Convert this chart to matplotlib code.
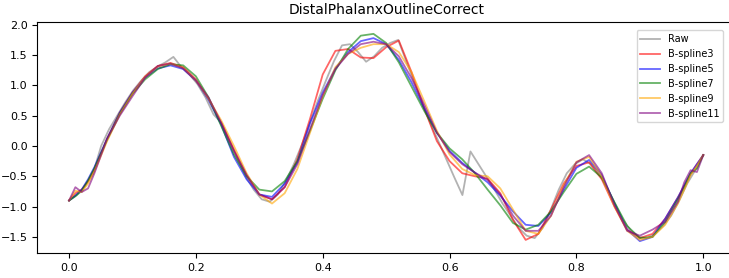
import numpy as np
import matplotlib
matplotlib.use("Agg")
import matplotlib.pyplot as plt

# raw series: 80 samples on [0, 1]
raw = [-0.90, -0.80, -0.66, -0.45, 0.00, 0.28, 0.50, 0.72, 0.92, 1.08,
       1.22, 1.31, 1.38, 1.47, 1.30, 1.18, 1.02, 0.80, 0.52, 0.38,
       0.08, -0.22, -0.50, -0.72, -0.88, -0.92, -0.80, -0.58, -0.30, 0.02,
       0.38, 0.75, 1.08, 1.40, 1.66, 1.68, 1.55, 1.39, 1.48, 1.62,
       1.70, 1.75, 1.40, 1.05, 0.70, 0.38, 0.08, -0.22, -0.52, -0.81,
       -0.09, -0.30, -0.51, -0.72, -0.95, -1.15, -1.35, -1.48, -1.52, -1.35,
       -1.05, -0.72, -0.45, -0.30, -0.22, -0.30, -0.45, -0.68, -0.95, -1.22,
       -1.40, -1.50, -1.52, -1.45, -1.32, -1.15, -0.90, -0.62, -0.40, -0.15]
x_raw = np.linspace(0, 1, len(raw))

# sample positions where the smoothed curves were read
x_fit = [0.00, 0.01, 0.02, 0.03, 0.04, 0.06, 0.08, 0.10, 0.12, 0.14,
         0.16, 0.18, 0.20, 0.22, 0.24, 0.26, 0.28, 0.30, 0.32, 0.34,
         0.36, 0.38, 0.40, 0.42, 0.44, 0.46, 0.48, 0.50, 0.52, 0.54,
         0.56, 0.58, 0.60, 0.62, 0.64, 0.66, 0.68, 0.70, 0.72, 0.74,
         0.76, 0.78, 0.80, 0.82, 0.84, 0.86, 0.88, 0.90, 0.92, 0.94,
         0.96, 0.97, 0.98, 0.99, 1.00]

bspline3 = [-0.90, -0.78, -0.72, -0.58, -0.38, 0.12, 0.55, 0.88, 1.15, 1.32,
            1.37, 1.30, 1.10, 0.78, 0.38, -0.06, -0.48, -0.80, -0.88, -0.68,
            -0.22, 0.45, 1.18, 1.57, 1.60, 1.46, 1.45, 1.63, 1.74, 1.22,
            0.62, 0.08, -0.25, -0.45, -0.50, -0.54, -0.78, -1.22, -1.55, -1.45,
            -1.05, -0.62, -0.33, -0.27, -0.55, -1.00, -1.38, -1.52, -1.45, -1.20,
            -0.85, -0.66, -0.46, -0.30, -0.15]

bspline5 = [-0.90, -0.82, -0.72, -0.55, -0.35, 0.12, 0.55, 0.88, 1.13, 1.28,
            1.33, 1.27, 1.08, 0.76, 0.35, -0.18, -0.55, -0.80, -0.84, -0.62,
            -0.27, 0.38, 0.88, 1.28, 1.55, 1.73, 1.78, 1.68, 1.42, 1.05,
            0.62, 0.22, -0.08, -0.28, -0.44, -0.60, -0.82, -1.08, -1.30, -1.32,
            -1.10, -0.72, -0.36, -0.23, -0.48, -0.95, -1.38, -1.57, -1.50, -1.20,
            -0.85, -0.65, -0.45, -0.30, -0.15]

bspline7 = [-0.90, -0.83, -0.74, -0.57, -0.37, 0.10, 0.53, 0.86, 1.10, 1.27,
            1.35, 1.33, 1.15, 0.80, 0.33, -0.14, -0.50, -0.72, -0.75, -0.58,
            -0.25, 0.25, 0.78, 1.25, 1.60, 1.82, 1.85, 1.70, 1.38, 0.98,
            0.58, 0.22, -0.04, -0.22, -0.45, -0.72, -0.98, -1.27, -1.38, -1.30,
            -1.08, -0.76, -0.46, -0.34, -0.52, -0.93, -1.32, -1.52, -1.50, -1.25,
            -0.88, -0.68, -0.45, -0.37, -0.15]

bspline9 = [-0.90, -0.74, -0.76, -0.62, -0.42, 0.08, 0.52, 0.86, 1.14, 1.31,
            1.36, 1.29, 1.08, 0.78, 0.42, 0.00, -0.45, -0.80, -0.95, -0.78,
            -0.38, 0.22, 0.82, 1.30, 1.52, 1.62, 1.68, 1.68, 1.55, 1.22,
            0.74, 0.25, -0.14, -0.38, -0.48, -0.50, -0.70, -1.05, -1.40, -1.45,
            -1.15, -0.65, -0.26, -0.18, -0.50, -1.00, -1.40, -1.55, -1.50, -1.30,
            -0.95, -0.72, -0.48, -0.33, -0.15]

bspline11 = [-0.90, -0.68, -0.76, -0.70, -0.45, 0.12, 0.50, 0.82, 1.13, 1.32,
             1.36, 1.28, 1.08, 0.80, 0.38, -0.08, -0.48, -0.80, -0.88, -0.68,
             -0.30, 0.28, 0.84, 1.27, 1.52, 1.68, 1.72, 1.68, 1.48, 1.12,
             0.68, 0.22, -0.10, -0.30, -0.44, -0.56, -0.80, -1.15, -1.40, -1.40,
             -1.15, -0.68, -0.27, -0.15, -0.45, -0.98, -1.40, -1.48, -1.38, -1.25,
             -0.92, -0.60, -0.40, -0.43, -0.15]

fig = plt.figure(figsize=(7.29, 2.78), dpi=100)
ax = fig.add_axes([0.0512, 0.0899, 0.957, 0.831])

ax.plot(x_raw, raw, color="gray", alpha=0.6, lw=1.3, label="Raw")
ax.plot(x_fit, bspline3, color="red", alpha=0.6, lw=1.3, label="B-spline3")
ax.plot(x_fit, bspline5, color="blue", alpha=0.6, lw=1.3, label="B-spline5")
ax.plot(x_fit, bspline7, color="green", alpha=0.6, lw=1.3, label="B-spline7")
ax.plot(x_fit, bspline9, color="orange", alpha=0.6, lw=1.3, label="B-spline9")
ax.plot(x_fit, bspline11, color="purple", alpha=0.6, lw=1.3, label="B-spline11")

ax.set_xlim(-0.05, 1.05)
ax.set_ylim(-1.766, 2.046)
ax.set_title("DistalPhalanxOutlineCorrect", fontsize=10)
ax.tick_params(labelsize=8)
ax.legend(loc="upper right", bbox_to_anchor=(0.99, 0.985), fontsize=7)

fig.savefig("out.png", dpi=100)
